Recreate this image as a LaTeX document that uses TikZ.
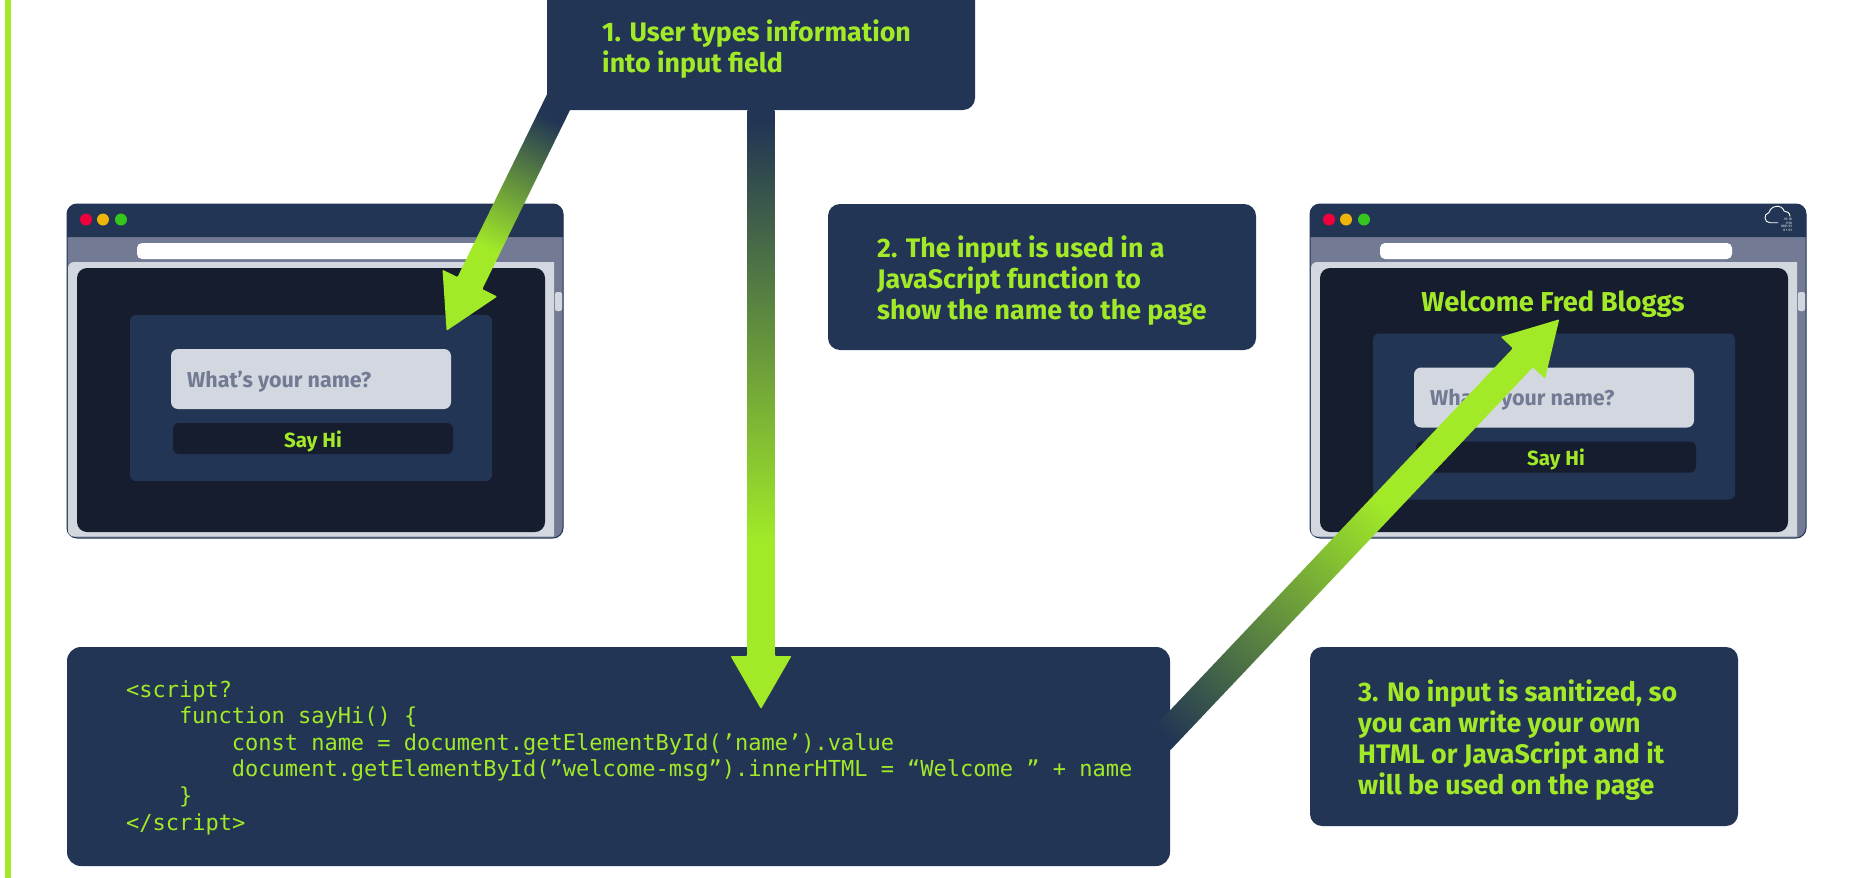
\documentclass[tikz,border=0pt]{standalone}
\usepackage{fontspec}
\setmainfont{Fira Sans}
\newfontfamily\codefont{DejaVu Sans Mono}
\usetikzlibrary{calc}
\definecolor{navy}{HTML}{223554}
\definecolor{ink}{HTML}{161D2E}
\definecolor{slate}{HTML}{727B93}
\definecolor{mist}{HTML}{D3D7DF}
\definecolor{lime}{HTML}{A2EA28}
\pgfdeclareverticalshading{arrowfade}{100bp}{color(0bp)=(lime); color(39bp)=(lime); color(74bp)=(navy); color(100bp)=(navy)}
\pgfdeclareverticalshading{arrowfadelong}{100bp}{color(0bp)=(lime); color(45bp)=(lime); color(83bp)=(navy); color(100bp)=(navy)}
\newcommand{\fadearrow}[4]{
  \shade[shading=#4,shading angle=#3,rounded corners=1pt]
    ($(#1)!13.8pt!90:(#2)$) -- ($($(#2)!53pt!(#1)$)!13.8pt!90:(#2)$)
    -- ($($(#2)!53pt!(#1)$)!30.5pt!90:(#2)$) -- (#2)
    -- ($($(#2)!53pt!(#1)$)!30.5pt!-90:(#2)$) -- ($($(#2)!53pt!(#1)$)!13.8pt!-90:(#2)$)
    -- ($(#1)!13.8pt!-90:(#2)$) -- cycle;
}
\begin{document}
\begin{tikzpicture}[>=latex,x=1pt,y=-1pt,
    panel/.style={anchor=north west,inner sep=0pt,outer sep=0pt},
    stepbox/.style={panel,fill=navy,rounded corners=12,minimum width=428},
    steptext/.style={anchor=west,align=left,text=lime,inner sep=0pt,font=\fontsize{26.8}{31}\selectfont\bfseries},
    dot/.style={circle,inner sep=0pt,minimum size=12}]
  \useasboundingbox (0,0) rectangle (1853,878);
  \fill[white] (0,0) rectangle (1853,878);
  \fill[lime] (5,0) rectangle (11,878);

  \foreach \bx/\fy/\n in {0/0/first,1243/18.5/second} {
    \node[panel,minimum width=496,minimum height=334,fill=slate,draw=navy,line width=1,rounded corners=10] (\n-frame) at (67+\bx,204) {};
    \fill[navy,rounded corners=10] (67+\bx,237) -- (67+\bx,204) -- (563+\bx,204) [sharp corners] -- (563+\bx,237) -- cycle;
    \fill[mist,rounded corners=6] (68+\bx,262) [sharp corners] -- (554+\bx,262) -- (554+\bx,536.5) [rounded corners=6] -- (68+\bx,536.5) -- cycle;
    \node[panel,minimum width=352,minimum height=16,fill=white,rounded corners=5] (\n-address) at (137+\bx,243) {};
    \node[panel,minimum width=7,minimum height=19,fill=mist,rounded corners=2] (\n-thumb) at (555+\bx,292) {};
    \node[panel,minimum width=468,minimum height=264,fill=ink,rounded corners=10] (\n-page) at (77+\bx,268) {};
    \node[panel,minimum width=362,minimum height=166,fill=navy,rounded corners=6] (\n-form) at (130+\bx,315+\fy) {};
    \node[panel,minimum width=280,minimum height=60,fill=mist,rounded corners=7] (\n-input) at (171+\bx,349+\fy) {};
    \node[panel,minimum width=280,minimum height=31,fill=ink,rounded corners=6] (\n-button) at (173+\bx,423+\fy) {};
    \node[anchor=base west,inner sep=0pt,text=slate,font=\fontsize{21.5}{25}\selectfont\bfseries] (\n-ask) at (187+\bx,387+\fy) {What’s your name?};
    \node[anchor=base,inner sep=0pt,text=lime,font=\fontsize{20.5}{23}\selectfont\bfseries] (\n-say) at (313+\bx,447+\fy) {Say Hi};
    \node[dot,fill={rgb,255:red,240;green,0;blue,60}] (\n-red) at (86+\bx,219.5) {};
    \node[dot,fill={rgb,255:red,237;green,180;blue,10}] (\n-amber) at (103+\bx,219.5) {};
    \node[dot,fill={rgb,255:red,54;green,199;blue,30}] (\n-green) at (121+\bx,219.5) {};
  }

  \node[anchor=base,inner sep=0pt,text=lime,font=\fontsize{27.3}{30}\selectfont\bfseries] (welcome) at (1553,311) {Welcome Fred Bloggs};
  \draw[white,line width=0.9] (1778,222.7) -- (1770,222.7) .. controls (1764,222.7) and (1763,214) .. (1769,212.5) .. controls (1771,205) and (1782,204) .. (1784,211) .. controls (1787,211) and (1790,213) .. (1790,216.5);
  \node[anchor=north east,inner sep=0pt,align=right,text=white,font=\fontsize{3.4}{3.6}\selectfont] (cloudbits) at (1792,218) {10 10\\1110\\0101 01\\0 1 01};

  \node[stepbox,minimum height=124] (stepone) at (547,-14) {};
  \node[stepbox,minimum height=146] (steptwo) at (828,204) {};
  \node[stepbox,minimum height=179] (stepthree) at (1310,647) {};
  \node[panel,fill=navy,rounded corners=14,minimum width=1103,minimum height=219] (scriptbox) at (67,647) {};

  \node[steptext] (stepone-text) at ([xshift=55,yshift=-1.5]stepone.west) {1. User types information\\into input field};
  \node[steptext] (steptwo-text) at ([xshift=49,yshift=-3.4]steptwo.west) {2. The input is used in a\\JavaScript function to\\show the name to the page};
  \node[steptext] (stepthree-text) at ([xshift=48,yshift=-3.4]stepthree.west) {3. No input is sanitized, so\\you can write your own\\HTML or JavaScript and it\\will be used on the page};
  \node[anchor=west,align=left,inner sep=0pt,text=lime,font=\codefont\fontsize{22}{26.6}\selectfont] (script-text) at ([xshift=59,yshift=-1]scriptbox.west) {<script?\\
    \hspace*{52.8pt}function sayHi() \{\\
    \hspace*{105.6pt}const name = document.getElementById(’name’).value\\
    \hspace*{105.6pt}document.getElementById(”welcome-msg”).innerHTML = “Welcome ” + name\\
    \hspace*{52.8pt}\}\\
    </script>};

  \coordinate (arrowone-start) at ([xshift=16,yshift=17]stepone.south west);
  \coordinate (arrowone-tip) at (446.6,330.7);
  \coordinate (arrowtwo-start) at (stepone.south -| 761,0);
  \coordinate (arrowtwo-tip) at (761,709);
  \coordinate (arrowthree-start) at ([xshift=-10]scriptbox.east |- 0,741);
  \coordinate (arrowthree-tip) at (1559.3,319.3);
  \fadearrow{arrowone-start}{arrowone-tip}{-26}{arrowfade}
  \fadearrow{arrowtwo-start}{arrowtwo-tip}{0}{arrowfade}
  \fadearrow{arrowthree-start}{arrowthree-tip}{137}{arrowfadelong}
\end{tikzpicture}
\end{document}
